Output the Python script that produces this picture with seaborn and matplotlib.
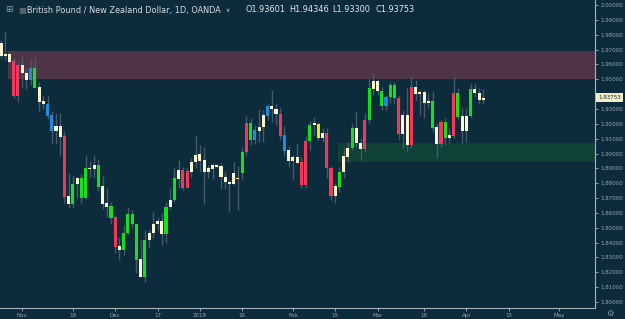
import matplotlib
matplotlib.use("Agg")
import matplotlib.pyplot as plt
import seaborn as sns
import numpy as np
import pandas as pd

# ---------------- data (GBP/NZD daily) ----------------
opens = [1.9742, 1.9657, 1.9670, 1.9623, 1.9596, 1.9542, 1.9544, 1.9495, 1.9443, 1.9446,
         1.9354, 1.9335, 1.9259, 1.9152, 1.9185, 1.9118, 1.8714, 1.8660, 1.8795, 1.8700,
         1.8700, 1.8902, 1.8896, 1.8776, 1.8781, 1.8669, 1.8566, 1.8572, 1.8377, 1.8350,
         1.8465, 1.8525, 1.8285, 1.8290, 1.8170, 1.8418, 1.8465, 1.8525, 1.8546, 1.8458,
         1.8642, 1.8687, 1.8828, 1.8889, 1.8882, 1.8877, 1.8943, 1.8997, 1.8956, 1.8877,
         1.8896, 1.8923, 1.8916, 1.8842, 1.8810, 1.8797, 1.8835, 1.8867, 1.9207, 1.9091,
         1.9158, 1.9152, 1.9181, 1.9255, 1.9322, 1.9300, 1.9266, 1.9125, 1.9024, 1.8950,
         1.8979, 1.8941, 1.9084, 1.9084, 1.9192, 1.9197, 1.9102, 1.9140, 1.8904, 1.8716,
         1.8776, 1.8877, 1.8979, 1.9039, 1.9170, 1.9073, 1.9226, 1.9226, 1.9434, 1.9488,
         1.9320, 1.9383, 1.9383, 1.9372, 1.9372, 1.9131, 1.9259, 1.9450, 1.9401, 1.9416,
         1.9416, 1.9342, 1.9174, 1.9181, 1.9210, 1.9106, 1.9106, 1.9405, 1.9248, 1.9255,
         1.9152, 1.9255, 1.9434, 1.9410, 1.93601]
highs = [1.9764, 1.9825, 1.9684, 1.9643, 1.9616, 1.9657, 1.9576, 1.9630, 1.9650, 1.9484,
         1.9387, 1.9387, 1.9286, 1.9273, 1.9273, 1.9152, 1.8869, 1.8855, 1.8844, 1.8862,
         1.8990, 1.8950, 1.8990, 1.8963, 1.8851, 1.8768, 1.8676, 1.8586, 1.8438, 1.8519,
         1.8642, 1.8620, 1.8525, 1.8418, 1.8485, 1.8485, 1.8606, 1.8574, 1.8599, 1.8676,
         1.8768, 1.8902, 1.8956, 1.8911, 1.8900, 1.8970, 1.9125, 1.9057, 1.9046, 1.8923,
         1.8936, 1.8929, 1.8936, 1.8877, 1.8822, 1.8945, 1.8916, 1.9046, 1.9255, 1.9239,
         1.9192, 1.9300, 1.9293, 1.9331, 1.9428, 1.9331, 1.9304, 1.9187, 1.9053, 1.8990,
         1.9069, 1.8979, 1.9118, 1.9221, 1.9248, 1.9203, 1.9170, 1.9170, 1.8918, 1.8799,
         1.8911, 1.9035, 1.9080, 1.9203, 1.9286, 1.9102, 1.9271, 1.9511, 1.9540, 1.9495,
         1.9450, 1.9394, 1.9484, 1.9484, 1.9394, 1.9293, 1.9443, 1.9517, 1.9495, 1.9428,
         1.9428, 1.9405, 1.9421, 1.9203, 1.9226, 1.9237, 1.9170, 1.9517, 1.9443, 1.9304,
         1.9304, 1.9466, 1.9473, 1.9443, 1.94346]
lows = [1.9643, 1.9630, 1.9610, 1.9374, 1.9347, 1.9441, 1.9434, 1.9461, 1.9441, 1.9286,
        1.9300, 1.9232, 1.9064, 1.9064, 1.8983, 1.8667, 1.8633, 1.8633, 1.8700, 1.8667,
        1.8694, 1.8842, 1.8835, 1.8750, 1.8626, 1.8575, 1.8525, 1.8332, 1.8283, 1.8317,
        1.8458, 1.8498, 1.8195, 1.8168, 1.8137, 1.8364, 1.8431, 1.8485, 1.8384, 1.8397,
        1.8626, 1.8676, 1.8768, 1.8754, 1.8766, 1.8844, 1.8902, 1.8877, 1.8660, 1.8835,
        1.8828, 1.8902, 1.8761, 1.8761, 1.8608, 1.8788, 1.8620, 1.8822, 1.8983, 1.9057,
        1.9062, 1.9080, 1.9080, 1.9226, 1.9214, 1.9192, 1.9091, 1.8983, 1.8911, 1.8822,
        1.8934, 1.8766, 1.8766, 1.9024, 1.9125, 1.9091, 1.9080, 1.8833, 1.8687, 1.8669,
        1.8743, 1.8833, 1.8945, 1.9024, 1.9046, 1.8956, 1.9012, 1.9203, 1.9394, 1.9394,
        1.9293, 1.9293, 1.9338, 1.9331, 1.9091, 1.9030, 1.9008, 1.9039, 1.9360, 1.9259,
        1.9237, 1.9307, 1.9147, 1.8968, 1.9046, 1.9057, 1.9069, 1.9102, 1.9232, 1.9069,
        1.9080, 1.9241, 1.9383, 1.9330, 1.93300]
closes = [1.9659, 1.9670, 1.9616, 1.9389, 1.9389, 1.9596, 1.9495, 1.9578, 1.9578, 1.9349,
          1.9333, 1.9255, 1.9152, 1.9185, 1.9113, 1.8707, 1.8660, 1.8795, 1.8837, 1.8835,
          1.8902, 1.8896, 1.8923, 1.8923, 1.8660, 1.8642, 1.8647, 1.8372, 1.8350, 1.8465,
          1.8593, 1.8593, 1.8525, 1.8170, 1.8418, 1.8465, 1.8525, 1.8546, 1.8458, 1.8642,
          1.8689, 1.8835, 1.8889, 1.8770, 1.8770, 1.8943, 1.8990, 1.8950, 1.8877, 1.8902,
          1.8923, 1.8911, 1.8840, 1.8806, 1.8797, 1.8869, 1.8828, 1.9012, 1.9008, 1.9207,
          1.9091, 1.9181, 1.9259, 1.9322, 1.9300, 1.9264, 1.9120, 1.9017, 1.8950, 1.8979,
          1.8938, 1.8788, 1.8788, 1.9192, 1.9205, 1.9102, 1.9140, 1.8904, 1.8716, 1.8781,
          1.8877, 1.8983, 1.9039, 1.9170, 1.9073, 1.9028, 1.9028, 1.9439, 1.9488, 1.9421,
          1.9423, 1.9320, 1.9461, 1.9461, 1.9131, 1.9259, 1.9057, 1.9057, 1.9450, 1.9399,
          1.9342, 1.9354, 1.9354, 1.9064, 1.9064, 1.9210, 1.9125, 1.9120, 1.9405, 1.9152,
          1.9255, 1.9434, 1.9410, 1.9360, 1.93753]
# candle colour class: c=cream, r=red, g=green, b=blue, y=yellow
candle_class = list("cccrrccbgc" "cbbccrcgcg" "gccgccgrcg" "gggcgccccg" "cgcrrccccc"
                    "cccccccgrg" "bccbccrbcc" "crrgcycrrc" "gccgccrgcc" "gbggrccrcc"
                    "ccgcrgcrgc" "cgccc")

x_tick_pos = [5, 17, 27, 37, 47, 57, 69, 79, 89, 100, 110, 120, 132]
x_tick_labels = ["Nov", "19", "Dec", "17", "2019", "16", "Feb", "15", "Mar", "18", "Apr", "15", "May"]
y_tick_vals = [1.80, 1.81, 1.82, 1.83, 1.84, 1.85, 1.86, 1.87, 1.88, 1.89, 1.90,
               1.91, 1.92, 1.93, 1.94, 1.95, 1.96, 1.97, 1.98, 1.99, 2.00]

supply_zone = [1.9502, 1.9692]   # bottom, top
supply_start = 1.65
demand_zone = [1.8945, 1.9073]
demand_start = 79.6

title_text = "British Pound / New Zealand Dollar, 1D, OANDA"
ohlc_labels = ["O1.93601", "H1.94346", "L1.93300", "C1.93753"]
ohlc_x = [245, 289, 332.7, 375.7]
last_price = 1.93753

# ---------------- style ----------------
BG = "#0c2b3b"
AXIS_COL = "#aab4ba"
TXT = "#9aa6ad"
WICK = "#465a6a"
PALETTE = {"c": "#fbf5d2", "r": "#f2385a", "g": "#14e01e", "b": "#1e8be0", "y": "#f1e21c"}

sns.set_theme(style="dark", rc={"axes.facecolor": BG, "figure.facecolor": BG,
                                "axes.grid": False})
plt.rcParams["font.family"] = ["DejaVu Sans"]

df = pd.DataFrame({"open": opens, "high": highs, "low": lows, "close": closes,
                   "cls": candle_class})
df["idx"] = np.arange(len(df))
df["bottom"] = df[["open", "close"]].min(axis=1)
df["height"] = (df["open"] - df["close"]).abs().clip(lower=0.0007)

fig = plt.figure(figsize=(6.25, 3.19), dpi=100)
ax = fig.add_axes([0, 11.3 / 319, 595 / 625, 307.7 / 319])
ax.set_facecolor(BG)

# zones
ax.fill_between([supply_start, 200], supply_zone[0], supply_zone[1],
                color="#4f3448", lw=0, zorder=1)
ax.fill_between([demand_start, 200], demand_zone[0], demand_zone[1],
                color="#0f4137", lw=0, zorder=1)

# wicks and bodies
ax.vlines(df["idx"], df["low"], df["high"], color=WICK, lw=1.0, zorder=2)
ax.bar(df["idx"], df["height"], bottom=df["bottom"], width=0.72,
       color=[PALETTE[c] for c in df["cls"]], linewidth=0, zorder=3)

ax.set_xlim(-0.24, 140.4)
ax.set_ylim(1.79616, 2.00337)

for s in ["top", "left"]:
    ax.spines[s].set_visible(False)
for s in ["right", "bottom"]:
    ax.spines[s].set_visible(True)
    ax.spines[s].set_color(AXIS_COL)
    ax.spines[s].set_linewidth(0.8)

ax.yaxis.tick_right()
ax.set_yticks(y_tick_vals)
# the 1.94000 label sits under the last-price tag
ax.set_yticklabels(["" if abs(v - 1.94) < 1e-9 else f"{v:.5f}" for v in y_tick_vals])
ax.set_xticks(x_tick_pos)
ax.set_xticklabels(x_tick_labels)
ax.tick_params(axis="y", which="both", right=True, left=False, length=2.5, width=0.6,
               color=AXIS_COL, labelsize=4.0, labelcolor=TXT, pad=1.5)
ax.tick_params(axis="x", which="both", bottom=True, length=2, width=0.6,
               color=AXIS_COL, labelsize=4.0, labelcolor=TXT, pad=1.5)
ax.set_xlabel("")
ax.set_ylabel("")

# last price label
ax.annotate(f"{last_price:.5f}", xy=(1.0, last_price), xycoords=("axes fraction", "data"),
            xytext=(2.2, 0), textcoords="offset points", va="center", ha="left",
            fontsize=4.0, color="#0c2b3b",
            bbox=dict(boxstyle="square,pad=0.4", fc="#f4eec6", ec="none"),
            annotation_clip=False, zorder=10)

# title line
ty = 1 - 10 / 319
fig.text(5 / 625, ty, "\u229e", fontsize=6.5, color="#8d99a0", va="center", ha="left")
fig.text(18 / 625, ty, "\u25a0", fontsize=6, color="#56606a", va="center", ha="left")
fig.text(27 / 625, ty, title_text, fontsize=5.85, color="#d8dde0", va="center", ha="left")
fig.text(225 / 625, ty, "\u2228", fontsize=4.2, color="#d8dde0", va="center", ha="left")
for xpos, lab in zip(ohlc_x, ohlc_labels):
    fig.text(xpos / 625, ty, lab, fontsize=5.85, color="#e4e8ea", va="center", ha="left")

fig.text(610 / 625, 5.5 / 319, "\u2699", fontsize=6, color="#8d99a0", va="center", ha="center")

fig.savefig("out.png", dpi=100, facecolor=BG)
